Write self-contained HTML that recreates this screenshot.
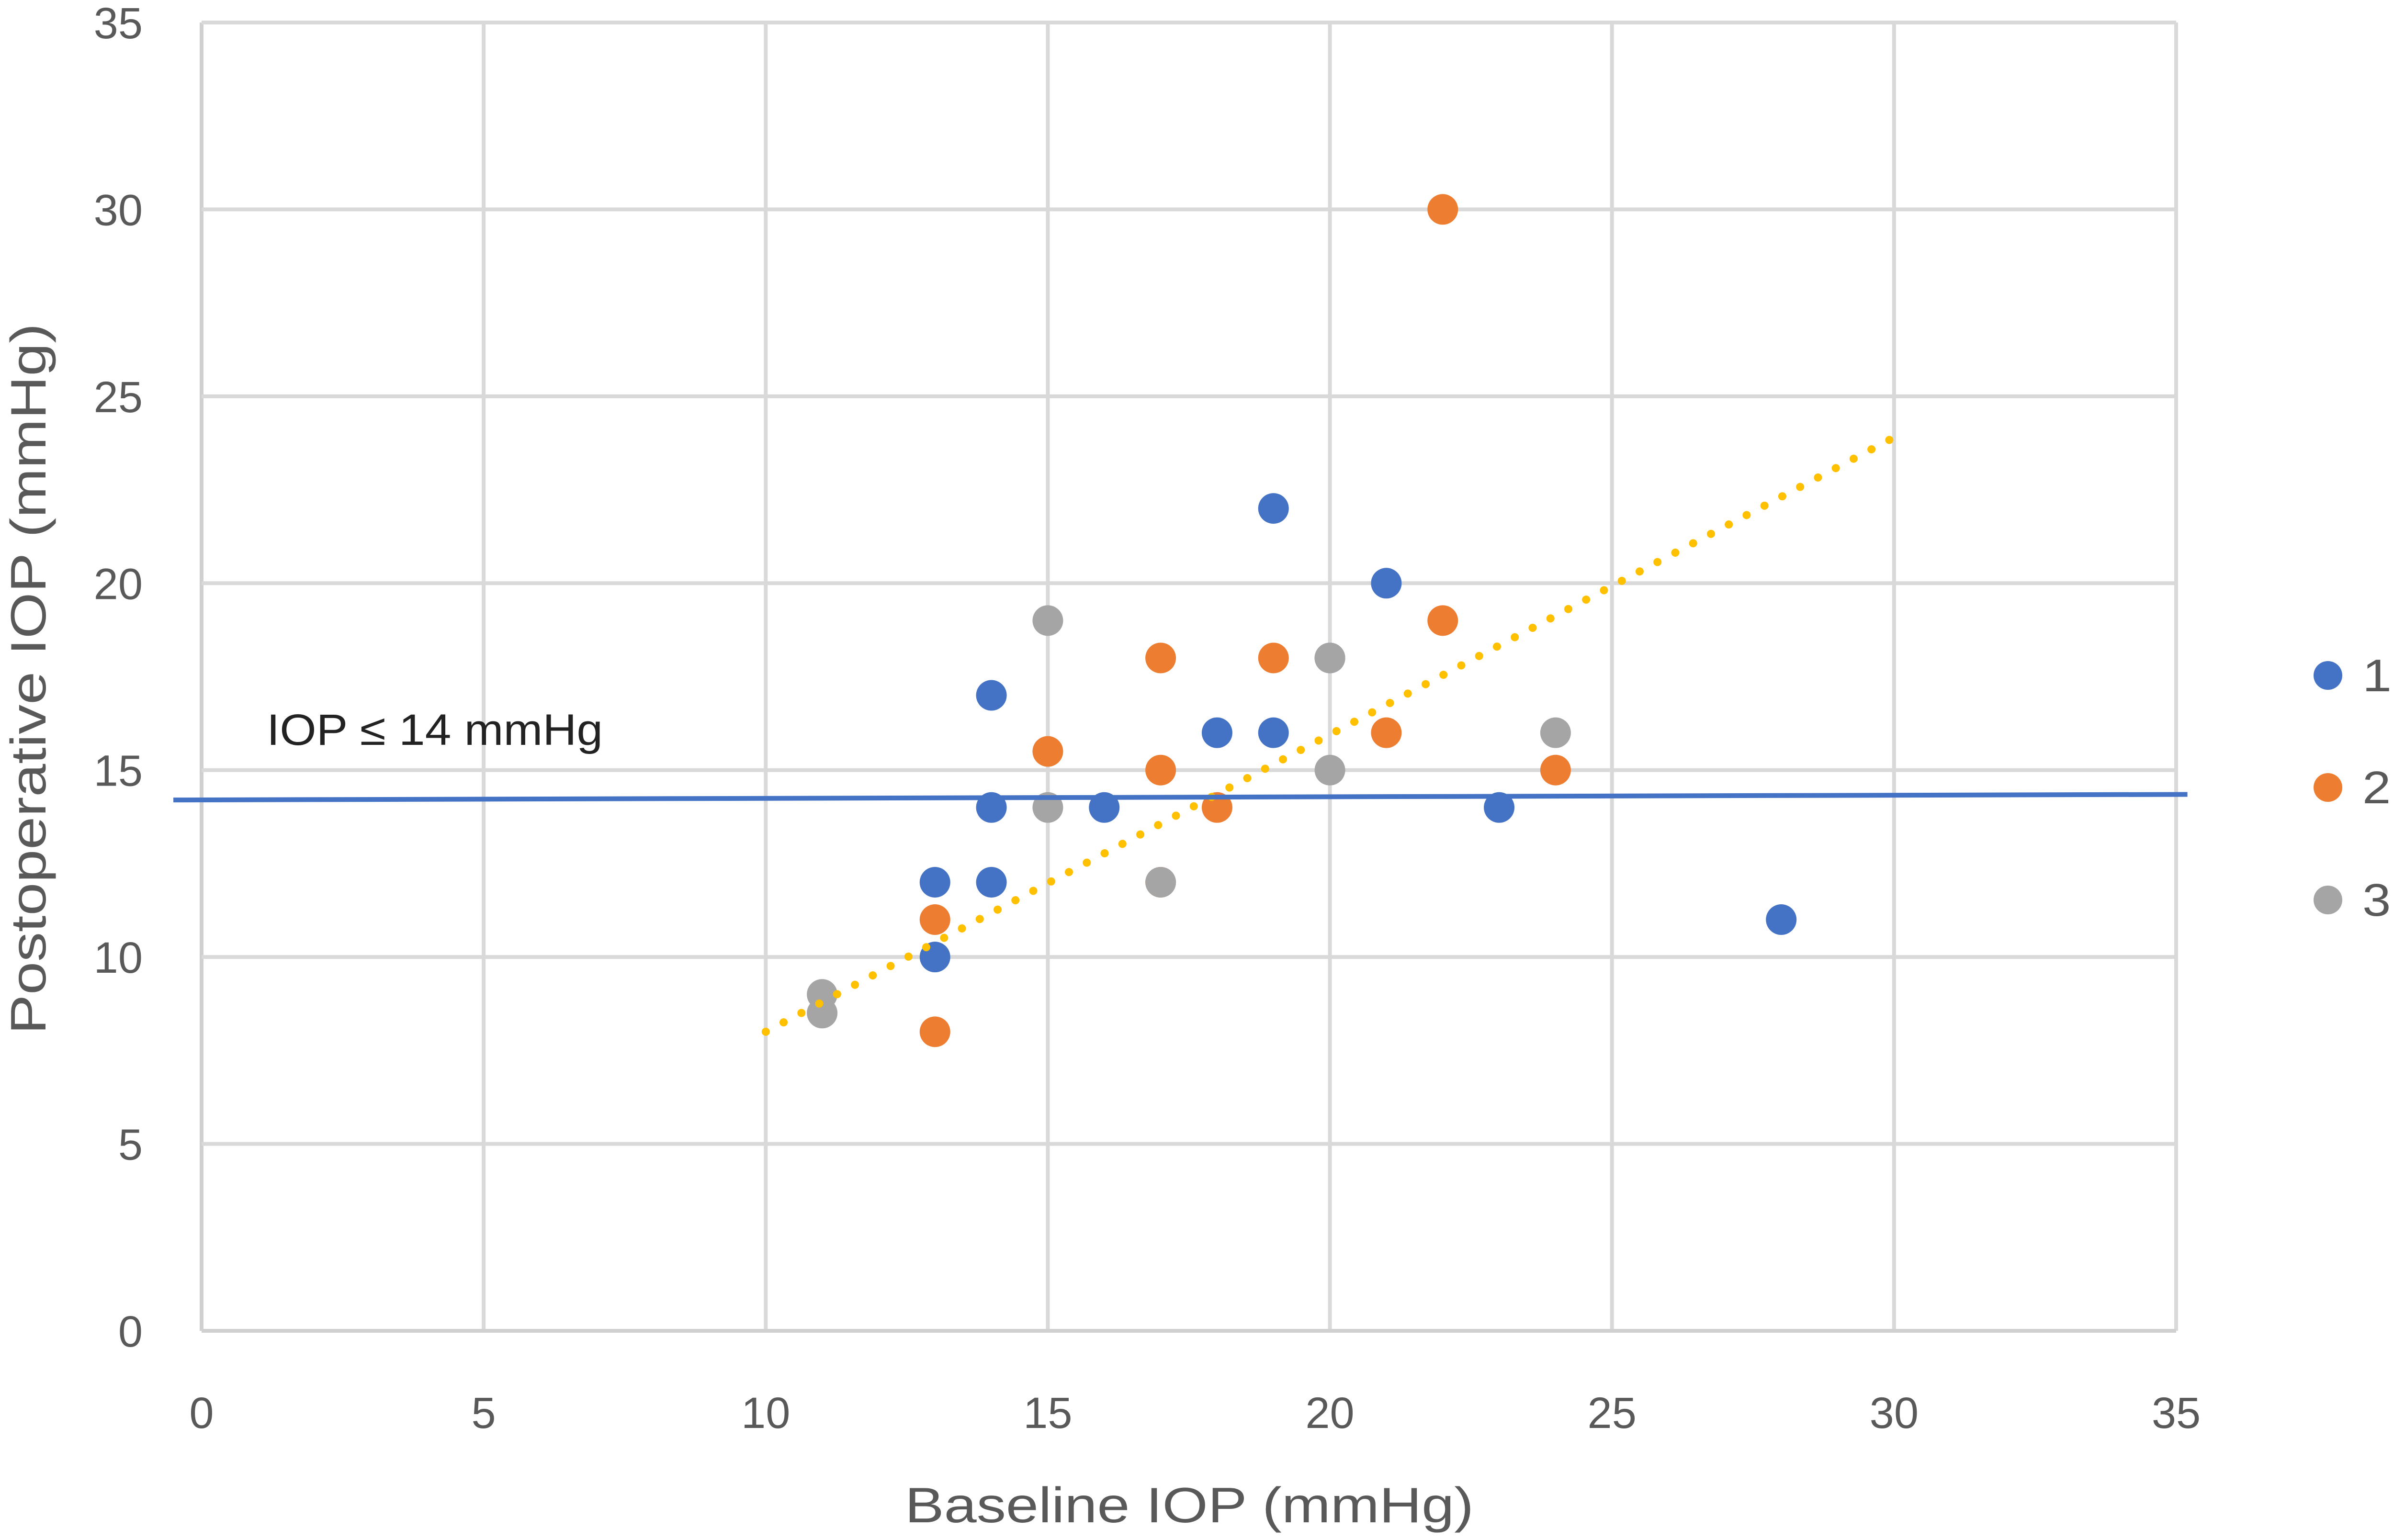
<!DOCTYPE html>
<html><head><meta charset="utf-8">
<style>html,body{margin:0;padding:0;background:#fff;width:5292px;height:3217px;overflow:hidden}svg{display:block}</style>
</head><body>
<svg id="chart" width="5292" height="3217" viewBox="0 0 5292 3217" xmlns="http://www.w3.org/2000/svg" font-family="'Liberation Sans', sans-serif" overflow="hidden">
<rect width="5292" height="3217" fill="#fff"/>
<g id="grid"></g>
<g id="ticks"></g>
<g id="marks"></g>
<text x="2484" y="3180" text-anchor="middle" font-size="104" fill="#595959" textLength="1188" lengthAdjust="spacingAndGlyphs">Baseline IOP (mmHg)</text>
<text transform="translate(95,1418) rotate(-90)" text-anchor="middle" font-size="104" fill="#595959" textLength="1485" lengthAdjust="spacingAndGlyphs">Postoperative IOP (mmHg)</text>
<text x="557" y="1556" font-size="92" fill="#222" textLength="702" lengthAdjust="spacingAndGlyphs">IOP ≤ 14 mmHg</text>
<g>
 <g><circle cx="4862" cy="1411" r="30" fill="#4472C4"/><text x="4934" y="1444" font-size="96" fill="#595959" textLength="305" lengthAdjust="spacingAndGlyphs">1 year</text></g>
 <g><circle cx="4862" cy="1645" r="30" fill="#ED7D31"/><text x="4934" y="1678" font-size="96" fill="#595959" textLength="350" lengthAdjust="spacingAndGlyphs">2 years</text></g>
 <g><circle cx="4862" cy="1880" r="30" fill="#A5A5A5"/><text x="4934" y="1913" font-size="96" fill="#595959" textLength="350" lengthAdjust="spacingAndGlyphs">3 years</text></g>
</g>
</svg>
<script>
const xTicks = [0,5,10,15,20,25,30,35];
const yTicks = [0,5,10,15,20,25,30,35];
const year1X = [14,19,21,18,19,14,16,23,13,14,13,28,20];
const year1Y = [17,22,20,16,16,14,14,14,12,12,10,11,18];
const year2X = [22,17,19,22,15,17,21,24,18,13,13,17];
const year2Y = [30,18,18,19,15.5,15,16,15,14,11,8,12];
const year3X = [15,20,24,20,15,17,11,11];
const year3Y = [19,18,16,15,14,12,9,8.5];
const thresholdX = [-0.5,35.2];
const thresholdY = [14.2,14.35];
const trendX = [10,30];
const trendY = [8,23.9];

const NS='http://www.w3.org/2000/svg';
const X0=421,X1=4545,Y0=2780,Y1=47;
function sx(v){return X0+(v-0)/35*(X1-X0);}
function sy(v){return Y0-(v-0)/35*(Y0-Y1);}
function mk(tag,attrs,parent){const e=document.createElementNS(NS,tag);for(const k in attrs)e.setAttribute(k,attrs[k]);parent.appendChild(e);return e;}

const grid=document.getElementById('grid');
const ticks=document.getElementById('ticks');
xTicks.forEach(t=>{
  const l=mk('line',{x1:sx(t),x2:sx(t),y1:Y1,y2:Y0,stroke:(t===0?'#d0d0d0':'#d9d9d9'),'stroke-width':8},grid);
  
  
  const tx=mk('text',{x:sx(t),y:2983,'text-anchor':'middle','font-size':92,fill:'#595959'},ticks);
  tx.textContent=t;
  
  
});
yTicks.forEach(t=>{
  const l=mk('line',{x1:X0,x2:X1,y1:sy(t),y2:sy(t),stroke:(t===0?'#d0d0d0':'#d9d9d9'),'stroke-width':8},grid);
  
  
  const tx=mk('text',{x:298,y:sy(t)+33,'text-anchor':'end','font-size':92,fill:'#595959'},ticks);
  tx.textContent=t;
  
  
});

const marks=document.getElementById('marks');
function series(xs,ys,color,name){
  xs.forEach((x,i)=>{
    const c=mk('circle',{cx:sx(x),cy:sy(ys[i]),r:32,fill:color},marks);
    
    
  });
}
series(year1X,year1Y,'#4472C4','point-1-year');
series(year2X,year2Y,'#ED7D31','point-2-years');
series(year3X,year3Y,'#A5A5A5','point-3-years');

const trend=mk('line',{x1:sx(trendX[0]),y1:sy(trendY[0]),x2:sx(trendX[1]),y2:sy(trendY[1]),stroke:'#FFC000','stroke-width':17,'stroke-linecap':'round','stroke-dasharray':'0.1 42'},marks);



const thr=mk('line',{x1:sx(thresholdX[0]),y1:sy(thresholdY[0]),x2:sx(thresholdX[1]),y2:sy(thresholdY[1]),stroke:'#4472C4','stroke-width':10},marks);


</script>
</body></html>
